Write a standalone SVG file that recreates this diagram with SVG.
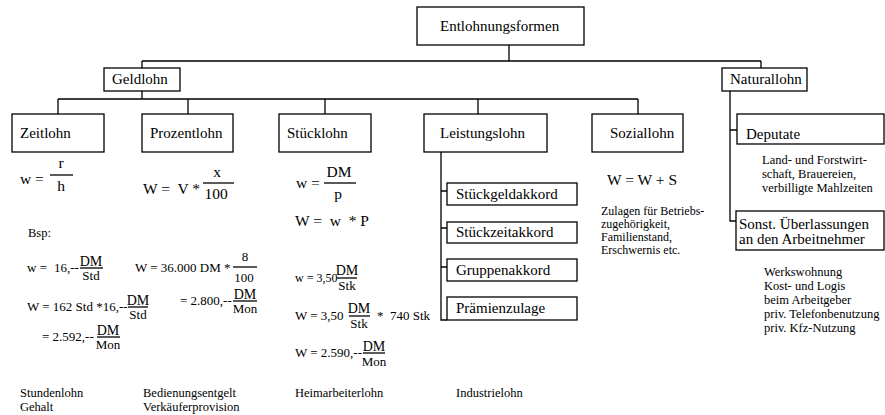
<svg xmlns="http://www.w3.org/2000/svg" width="885" height="415" viewBox="0 0 885 415">
<style>
text{font-family:"Liberation Serif","Times New Roman",serif;fill:#000}
.b{font-size:15px}
.f{font-size:15.5px}
.e{font-size:13px}
.d{font-size:14px}
.s{font-size:12.5px}
.n{font-size:12px}
.m{text-anchor:middle}
rect{fill:#fff;stroke:#000;stroke-width:1.3}
line,path{stroke:#000;stroke-width:1.3;fill:none}
</style>
<rect width="885" height="415" style="fill:#fff;stroke:none"/>
<g id="connectors">
<path d="M509 45V61M142 61H761M142 61V68M761 61V68"/>
<path d="M142 91V99M58 99H638M58 99V114M188 99V114M325 99V114M478 99V114M638 99V114"/>
<path d="M441 152V320H447M441 191H447M441 228H447M441 267H447"/>
<path d="M730 91V221H736M730 130H737"/>
</g>
<g id="n-entlohnungsformen"><rect x="417" y="7" width="167" height="38"/><text class="b" x="440" y="31">Entlohnungsformen</text></g>
<g id="n-geldlohn"><rect x="104" y="68" width="76" height="23"/><text class="b" x="112" y="84">Geldlohn</text></g>
<g id="n-naturallohn"><rect x="722" y="68" width="85" height="23"/><text class="b" x="730" y="84">Naturallohn</text></g>
<g id="n-zeitlohn"><rect x="12" y="114" width="92" height="38"/><text class="b" x="20" y="138">Zeitlohn</text></g>
<g id="n-prozentlohn"><rect x="142" y="114" width="91" height="38"/><text class="b" x="150" y="138">Prozentlohn</text></g>
<g id="n-stuecklohn"><rect x="279" y="114" width="92" height="38"/><text class="b" x="287" y="138">Stücklohn</text></g>
<g id="n-leistungslohn"><rect x="424" y="114" width="123" height="38"/><text class="b" x="440" y="138">Leistungslohn</text></g>
<g id="n-soziallohn"><rect x="592" y="114" width="91" height="38"/><text class="b" x="610" y="138">Soziallohn</text></g>
<g id="n-deputate"><rect x="737" y="114" width="147" height="30"/><text class="b" x="746" y="139">Deputate</text></g>
<g id="n-sonst"><rect x="736" y="211" width="148" height="39"/><text class="b" x="739" y="229">Sonst. Überlassungen</text><text class="b" x="739" y="244">an den Arbeitnehmer</text></g>
<g id="n-stueckgeldakkord"><rect x="447" y="183" width="130" height="22"/><text class="b" x="456" y="199">Stückgeldakkord</text></g>
<g id="n-stueckzeitakkord"><rect x="447" y="222" width="130" height="21"/><text class="b" x="456" y="237">Stückzeitakkord</text></g>
<g id="n-gruppenakkord"><rect x="447" y="259" width="130" height="22"/><text class="b" x="456" y="275">Gruppenakkord</text></g>
<g id="n-praemienzulage"><rect x="447" y="297" width="130" height="23"/><text class="b" x="456" y="313">Prämienzulage</text></g>
<g id="formulas">
<text class="f" x="20" y="184">w = </text>
<text class="f m" x="61" y="168">r</text>
<line x1="50" y1="175" x2="73" y2="175"/>
<text class="f m" x="61" y="191">h</text>
<text class="f" x="143" y="194" xml:space="preserve">W =  V *</text>
<text class="f m" x="217" y="177">x</text>
<line x1="203" y1="183" x2="234" y2="183"/>
<text class="f m" x="216" y="199">100</text>
<text class="f" x="296" y="188">w =</text>
<text class="f m" x="339" y="177">DM</text>
<line x1="324" y1="183" x2="356" y2="183"/>
<text class="f m" x="338" y="199">p</text>
<text class="f" x="295" y="226" xml:space="preserve">W =  w  * P</text>
<text class="f" x="607" y="185">W = W + S</text>
<text class="s" x="28" y="237">Bsp:</text>
<text class="e" x="27" y="272">w =</text>
<text class="e" x="54" y="272">16,--</text>
<text class="d m" x="91" y="266">DM</text>
<line x1="80" y1="268" x2="103" y2="268"/>
<text class="e m" x="91" y="280">Std</text>
<text class="e" x="27" y="311">W = 162 Std *16,--</text>
<text class="d m" x="138" y="305">DM</text>
<line x1="128" y1="307" x2="148" y2="307"/>
<text class="e m" x="138" y="319">Std</text>
<text class="e" x="42" y="341">= 2.592,--</text>
<text class="d m" x="108" y="335">DM</text>
<line x1="97" y1="337" x2="120" y2="337"/>
<text class="e m" x="108" y="349">Mon</text>
<text class="e" x="135" y="272">W = 36.000 DM *</text>
<text class="e m" x="245" y="261">8</text>
<line x1="233" y1="267" x2="257" y2="267"/>
<text class="e m" x="244" y="282">100</text>
<text class="e" x="180" y="305">= 2.800,--</text>
<text class="d m" x="245" y="299">DM</text>
<line x1="233" y1="301" x2="257" y2="301"/>
<text class="e m" x="245" y="313">Mon</text>
<text class="n" x="295" y="282">w = 3,50</text>
<text class="d m" x="347" y="275">DM</text>
<line x1="337" y1="278" x2="357" y2="278"/>
<text class="e m" x="347" y="290">Stk</text>
<text class="e" x="295" y="320">W = 3,50</text>
<text class="d m" x="359" y="313">DM</text>
<line x1="349" y1="316" x2="370" y2="316"/>
<text class="e m" x="359" y="328">Stk</text>
<text class="e" x="377" y="320" xml:space="preserve">*  740 Stk</text>
<text class="e" x="295" y="357">W = 2.590,--</text>
<text class="d m" x="374" y="351">DM</text>
<line x1="363" y1="353" x2="385" y2="353"/>
<text class="e m" x="374" y="366">Mon</text>
</g>
<g id="notes">
<text class="n" x="601" y="215">Zulagen für Betriebs-</text>
<text class="n" x="601" y="228">zugehörigkeit,</text>
<text class="n" x="601" y="241">Familienstand,</text>
<text class="n" x="601" y="254">Erschwernis etc.</text>
<text class="s" x="762" y="164">Land- und Forstwirt-</text>
<text class="s" x="762" y="178">schaft, Brauereien,</text>
<text class="s" x="762" y="192">verbilligte Mahlzeiten</text>
<text class="s" x="764" y="276">Werkswohnung</text>
<text class="s" x="764" y="290">Kost- und Logis</text>
<text class="s" x="764" y="304">beim Arbeitgeber</text>
<text class="s" x="764" y="318">priv. Telefonbenutzung</text>
<text class="s" x="764" y="332">priv. Kfz-Nutzung</text>
<text class="s" x="20" y="397">Stundenlohn</text>
<text class="s" x="20" y="411">Gehalt</text>
<text class="s" x="143" y="397">Bedienungsentgelt</text>
<text class="s" x="143" y="411">Verkäuferprovision</text>
<text class="s" x="295" y="397">Heimarbeiterlohn</text>
<text class="s" x="456" y="397">Industrielohn</text>
</g>
</svg>
